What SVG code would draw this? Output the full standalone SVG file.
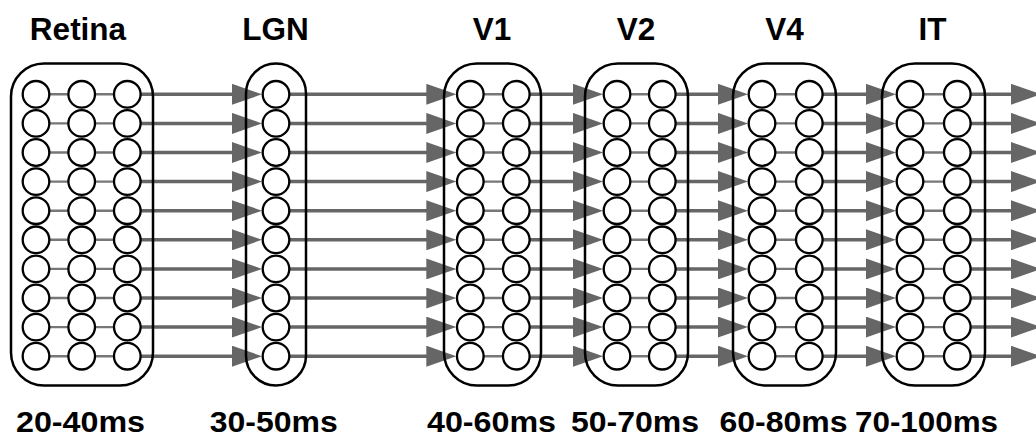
<svg xmlns="http://www.w3.org/2000/svg" width="1036" height="437" viewBox="0 0 1036 437">
<style>
.box{fill:none;stroke:#000;stroke-width:2.5}
.n{fill:#fff;stroke:#000;stroke-width:2.3}
.lnk{stroke:#777;stroke-width:2.4;fill:none}
.arr{stroke:#666;stroke-width:3.5;fill:none;marker-end:url(#ah)}
.t{font-family:"Liberation Sans",Arial,Helvetica,sans-serif;font-weight:bold;font-size:31.5px;text-anchor:middle;fill:#000}
.b{font-size:29.5px}
</style>
<defs>
<marker id="ah" markerUnits="userSpaceOnUse" markerWidth="31" markerHeight="21" refX="5" refY="10.5" orient="auto" viewBox="0 0 31 21">
<path d="M0,0 L30,10.5 L0,21 z" fill="#666"/>
</marker>
<g id="col"><circle class="n" cx="0" cy="94.3" r="13.3"/><circle class="n" cx="0" cy="123.4" r="13.3"/><circle class="n" cx="0" cy="152.5" r="13.3"/><circle class="n" cx="0" cy="181.6" r="13.3"/><circle class="n" cx="0" cy="210.7" r="13.3"/><circle class="n" cx="0" cy="239.8" r="13.3"/><circle class="n" cx="0" cy="268.9" r="13.3"/><circle class="n" cx="0" cy="298" r="13.3"/><circle class="n" cx="0" cy="327.1" r="13.3"/><circle class="n" cx="0" cy="356.2" r="13.3"/></g>
</defs>
<g id="connectors">
<g id="inner-links" class="lnk">
<path d="M36,94.3H127.3M36,123.4H127.3M36,152.5H127.3M36,181.6H127.3M36,210.7H127.3M36,239.8H127.3M36,268.9H127.3M36,298H127.3M36,327.1H127.3M36,356.2H127.3"/>
<path d="M470.3,94.3H516.3M470.3,123.4H516.3M470.3,152.5H516.3M470.3,181.6H516.3M470.3,210.7H516.3M470.3,239.8H516.3M470.3,268.9H516.3M470.3,298H516.3M470.3,327.1H516.3M470.3,356.2H516.3"/>
<path d="M617,94.3H662.3M617,123.4H662.3M617,152.5H662.3M617,181.6H662.3M617,210.7H662.3M617,239.8H662.3M617,268.9H662.3M617,298H662.3M617,327.1H662.3M617,356.2H662.3"/>
<path d="M762,94.3H809.3M762,123.4H809.3M762,152.5H809.3M762,181.6H809.3M762,210.7H809.3M762,239.8H809.3M762,268.9H809.3M762,298H809.3M762,327.1H809.3M762,356.2H809.3"/>
<path d="M910,94.3H957.3M910,123.4H957.3M910,152.5H957.3M910,181.6H957.3M910,210.7H957.3M910,239.8H957.3M910,268.9H957.3M910,298H957.3M910,327.1H957.3M910,356.2H957.3"/>
</g>
<g id="arrows-retina-lgn" class="arr">
<path d="M127.3,94.3H237"/><path d="M127.3,123.4H237"/><path d="M127.3,152.5H237"/><path d="M127.3,181.6H237"/><path d="M127.3,210.7H237"/><path d="M127.3,239.8H237"/><path d="M127.3,268.9H237"/><path d="M127.3,298H237"/><path d="M127.3,327.1H237"/><path d="M127.3,356.2H237"/>
</g>
<g id="arrows-lgn-v1" class="arr">
<path d="M276,94.3H431.3"/><path d="M276,123.4H431.3"/><path d="M276,152.5H431.3"/><path d="M276,181.6H431.3"/><path d="M276,210.7H431.3"/><path d="M276,239.8H431.3"/><path d="M276,268.9H431.3"/><path d="M276,298H431.3"/><path d="M276,327.1H431.3"/><path d="M276,356.2H431.3"/>
</g>
<g id="arrows-v1-v2" class="arr">
<path d="M516.3,94.3H578"/><path d="M516.3,123.4H578"/><path d="M516.3,152.5H578"/><path d="M516.3,181.6H578"/><path d="M516.3,210.7H578"/><path d="M516.3,239.8H578"/><path d="M516.3,268.9H578"/><path d="M516.3,298H578"/><path d="M516.3,327.1H578"/><path d="M516.3,356.2H578"/>
</g>
<g id="arrows-v2-v4" class="arr">
<path d="M662.3,94.3H723"/><path d="M662.3,123.4H723"/><path d="M662.3,152.5H723"/><path d="M662.3,181.6H723"/><path d="M662.3,210.7H723"/><path d="M662.3,239.8H723"/><path d="M662.3,268.9H723"/><path d="M662.3,298H723"/><path d="M662.3,327.1H723"/><path d="M662.3,356.2H723"/>
</g>
<g id="arrows-v4-it" class="arr">
<path d="M809.3,94.3H871"/><path d="M809.3,123.4H871"/><path d="M809.3,152.5H871"/><path d="M809.3,181.6H871"/><path d="M809.3,210.7H871"/><path d="M809.3,239.8H871"/><path d="M809.3,268.9H871"/><path d="M809.3,298H871"/><path d="M809.3,327.1H871"/><path d="M809.3,356.2H871"/>
</g>
<g id="arrows-it-out" class="arr">
<path d="M957.3,94.3H1016"/><path d="M957.3,123.4H1016"/><path d="M957.3,152.5H1016"/><path d="M957.3,181.6H1016"/><path d="M957.3,210.7H1016"/><path d="M957.3,239.8H1016"/><path d="M957.3,268.9H1016"/><path d="M957.3,298H1016"/><path d="M957.3,327.1H1016"/><path d="M957.3,356.2H1016"/>
</g>
</g>
<g id="retina">
<rect class="box" x="11" y="63.5" width="142" height="322" rx="33"/>
<use href="#col" x="36"/><use href="#col" x="81.7"/><use href="#col" x="127.3"/>
<text class="t" x="78" y="40">Retina</text>
<text class="t b" x="80.5" y="431.5" textLength="129" lengthAdjust="spacingAndGlyphs">20-40ms</text>
</g>
<g id="lgn">
<rect class="box" x="246" y="63.5" width="60" height="322" rx="30"/>
<use href="#col" x="276"/>
<text class="t" x="275.5" y="40">LGN</text>
<text class="t b" x="273.7" y="431.5" textLength="128" lengthAdjust="spacingAndGlyphs">30-50ms</text>
</g>
<g id="v1">
<rect class="box" x="444" y="63.5" width="97" height="322" rx="33"/>
<use href="#col" x="470.3"/><use href="#col" x="516.3"/>
<text class="t" x="492" y="40">V1</text>
<text class="t b" x="491.5" y="431.5" textLength="129" lengthAdjust="spacingAndGlyphs">40-60ms</text>
</g>
<g id="v2">
<rect class="box" x="585" y="63.5" width="103" height="322" rx="33"/>
<use href="#col" x="617"/><use href="#col" x="662.3"/>
<text class="t" x="636" y="40">V2</text>
<text class="t b" x="635" y="431.5" textLength="128" lengthAdjust="spacingAndGlyphs">50-70ms</text>
</g>
<g id="v4">
<rect class="box" x="733" y="63.5" width="103" height="322" rx="33"/>
<use href="#col" x="762"/><use href="#col" x="809.3"/>
<text class="t" x="784.5" y="40">V4</text>
<text class="t b" x="783.5" y="431.5" textLength="128" lengthAdjust="spacingAndGlyphs">60-80ms</text>
</g>
<g id="it">
<rect class="box" x="882" y="63.5" width="103" height="322" rx="33"/>
<use href="#col" x="910"/><use href="#col" x="957.3"/>
<text class="t" x="932.5" y="40">IT</text>
<text class="t b" x="926.5" y="431.5" textLength="143" lengthAdjust="spacingAndGlyphs">70-100ms</text>
</g>
</svg>
